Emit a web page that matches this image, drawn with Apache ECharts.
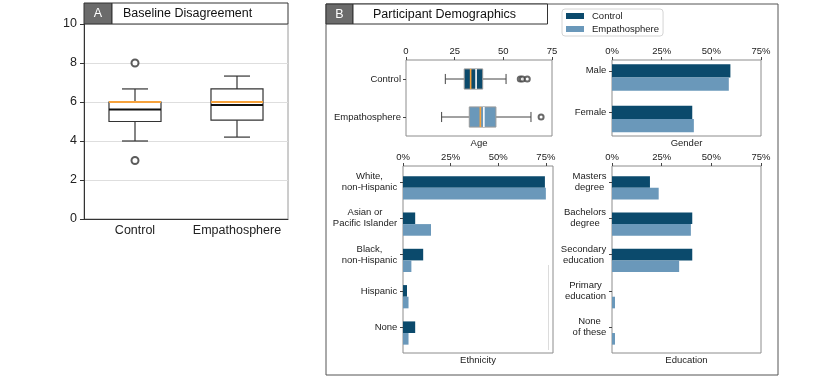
<!DOCTYPE html>
<html><head><meta charset="utf-8">
<script src="https://cdn.jsdelivr.net/npm/echarts@6/dist/echarts.min.js"></script>
<style>html,body{margin:0;padding:0;background:#fff}#c{width:830px;height:376px}</style>
</head><body><div id="c"></div>
<script>
// ---------------- data ----------------
const groups = ['Control', 'Empathosphere'];
// box stats: [low whisker, Q1, median, Q3, high whisker, mean]
const baselineStats = [
  [4.0, 5.0, 6.0, 6.0, 6.67, 5.62],
  [4.2, 5.07, 6.0, 6.67, 7.33, 5.84]
];
const baselineOutliers = [[0, 8.0], [0, 3.0]];
const baselineTicks = [0, 2, 4, 6, 8, 10];

const ageStats = [
  [20.2, 29.9, 33.2, 39.4, 51.4, 36.0],
  [18.3, 32.5, 38.2, 46.2, 64.2, 40.0]
];
const ageOutliers = [[58.7, 0], [59.8, 0], [62.3, 0], [69.4, 1]];
const ageTicks = [0, 25, 50, 75];

const genderCats = ['Male', 'Female'];
const genderControl = [59.6, 40.4];
const genderEmpatho = [58.8, 41.2];

const ethnicityCats = ['White,\nnon-Hispanic', 'Asian or\nPacific Islander', 'Black,\nnon-Hispanic', 'Hispanic', 'None'];
const ethnicityControl = [74.5, 6.4, 10.6, 2.1, 6.4];
const ethnicityEmpatho = [75.0, 14.7, 4.4, 2.9, 2.9];

const educationCats = ['Masters\ndegree', 'Bachelors\ndegree', 'Secondary\neducation', 'Primary\neducation', 'None\nof these'];
const educationControl = [19.1, 40.4, 40.4, 0, 0];
const educationEmpatho = [23.5, 39.7, 33.8, 1.5, 1.5];

const pctTicks = [0, 25, 50, 75];

// ---------------- styles ----------------
const FONT = '"Liberation Sans", Arial, Helvetica, sans-serif';
const C_CONTROL = '#0b4a6c';
const C_EMPATHO = '#6a98ba';
const ORANGE = '#f6a23c';
const FRAME = '#8c8c8c';
const TXT = '#222';
const SMALL = 9.5;
const BIG = 12.5;
const BAR_H = 0.32;

const ctx = document.createElement('canvas').getContext('2d');
ctx.font = SMALL + 'px ' + FONT;
function richFor(cats, prefix) {
  const rich = {};
  cats.forEach((c, i) => {
    const w = Math.max(...c.split('\n').map(l => ctx.measureText(l).width));
    rich[prefix + i] = {width: Math.ceil(w) + 1, align: 'center', fontSize: SMALL, lineHeight: 11, fontFamily: FONT, color: TXT};
  });
  return rich;
}
function catFormatter(cats, prefix) {
  return v => {
    const i = Math.round(v);
    if (cats[i] == null) return '';
    return cats[i].split('\n').map(l => '{' + prefix + i + '|' + l + '}').join('\n');
  };
}

function boxRender(horizontal, st) {
  return function (params, api) {
    const c = api.value(0);
    const low = api.value(1), q1 = api.value(2), med = api.value(3), q3 = api.value(4), high = api.value(5), mean = api.value(6);
    const band = horizontal ? api.size([0, 1])[1] : api.size([1, 0])[0];
    const bw = band * st.boxRatio, cap = bw / 2;
    const P = (val, off) => {
      if (horizontal) { const p = api.coord([val, c]); return [p[0], p[1] + off]; }
      const p = api.coord([c, val]); return [p[0] + off, p[1]];
    };
    const line = (a, b, style) => ({type: 'line', shape: {x1: a[0], y1: a[1], x2: b[0], y2: b[1]}, style: style});
    const wst = {stroke: st.whisker, lineWidth: st.whiskerWidth};
    const a1 = P(q1, -bw / 2), a2 = P(q3, bw / 2);
    const fill = st.fills ? st.fills[params.dataIndex] : 'rgba(0,0,0,0)';
    return {type: 'group', children: [
      line(P(low, 0), P(q1, 0), wst),
      line(P(q3, 0), P(high, 0), wst),
      line(P(low, -cap / 2), P(low, cap / 2), wst),
      line(P(high, -cap / 2), P(high, cap / 2), wst),
      {type: 'rect', shape: {x: Math.min(a1[0], a2[0]), y: Math.min(a1[1], a2[1]), width: Math.abs(a2[0] - a1[0]), height: Math.abs(a2[1] - a1[1])},
        style: {fill: fill, stroke: st.boxStroke, lineWidth: st.boxWidth}},
      line(P(mean, -bw / 2), P(mean, bw / 2), {stroke: st.mean, lineWidth: st.lineW}),
      line(P(med, -bw / 2), P(med, bw / 2), {stroke: ORANGE, lineWidth: st.lineW})
    ]};
  };
}

function barRender(slot) {
  return function (params, api) {
    const c = api.value(0), v = api.value(1);
    const top = c - BAR_H / 2 + slot * BAR_H;
    const p0 = api.coord([0, top]);
    const p1 = api.coord([v, top + BAR_H]);
    return {type: 'rect', shape: {x: p0[0], y: Math.min(p0[1], p1[1]), width: p1[0] - p0[0], height: Math.abs(p1[1] - p0[1])},
      style: {fill: api.visual('color')}};
  };
}

const chart = echarts.init(document.getElementById('c'), null, {renderer: 'canvas'});

const gridBase = {show: true, borderColor: FRAME, borderWidth: 1, backgroundColor: 'rgba(0,0,0,0)', containLabel: false, outerBoundsMode: 'none'};
const smallLabel = {fontSize: SMALL, color: TXT, fontFamily: FONT};
const smallTick = {show: true, length: 3, lineStyle: {color: '#444', width: 1}};

function pctXAxis(grid, max) {
  return {gridIndex: grid, type: 'value', position: 'top', min: 0, max: max,
    axisLine: {show: false, onZero: false}, splitLine: {show: false},
    axisTick: Object.assign({customValues: pctTicks}, smallTick),
    axisLabel: Object.assign({customValues: pctTicks, margin: 4, formatter: v => v + '%'}, smallLabel)};
}
function catYAxis(grid, cats, prefix, min, max) {
  const idx = cats.map((c, i) => i);
  return {gridIndex: grid, type: 'value', inverse: true, min: min, max: max,
    axisLine: {show: false, onZero: false}, splitLine: {show: false},
    axisTick: Object.assign({customValues: idx}, smallTick),
    axisLabel: Object.assign({customValues: idx, margin: 5, formatter: catFormatter(cats, prefix), rich: richFor(cats, prefix)}, smallLabel)};
}
function barSeries(name, grid, color, slot, values) {
  return {name: name, type: 'custom', xAxisIndex: grid, yAxisIndex: grid, itemStyle: {color: color},
    encode: {x: 1, y: 0}, renderItem: barRender(slot), data: values.map((v, i) => [i, v])};
}

const option = {
  animation: false,
  textStyle: {fontFamily: FONT},
  grid: [
    Object.assign({}, gridBase, {left: 84, top: 24, width: 204, height: 195, borderColor: '#9a9a9a'}),
    Object.assign({}, gridBase, {left: 406, top: 60, width: 146, height: 76}),
    Object.assign({}, gridBase, {left: 612, top: 60, width: 149, height: 76}),
    Object.assign({}, gridBase, {left: 403, top: 166, width: 150, height: 187}),
    Object.assign({}, gridBase, {left: 612, top: 166, width: 149, height: 187})
  ],
  legend: {
    data: groups, orient: 'vertical', left: 562, top: 9, icon: 'rect', itemWidth: 18, itemHeight: 6, itemGap: 3,
    padding: [2, 4, 2, 4], borderColor: '#d4d4d4', borderWidth: 1, borderRadius: 3, selectedMode: false,
    textStyle: {fontSize: SMALL, color: TXT, fontFamily: FONT, padding: [0, 0, 0, 3]}
  },
  xAxis: [
    {gridIndex: 0, type: 'category', data: groups, axisLine: {lineStyle: {color: '#333'}},
      axisTick: {alignWithLabel: true, length: 4, lineStyle: {color: '#333'}},
      axisLabel: {interval: 0, fontSize: BIG, color: TXT, margin: 5, fontFamily: FONT}},
    {gridIndex: 1, type: 'value', position: 'top', min: 0, max: 75, interval: 25,
      axisLine: {show: false, onZero: false}, splitLine: {show: false}, axisTick: smallTick,
      axisLabel: Object.assign({margin: 4}, smallLabel)},
    pctXAxis(2, 75),
    pctXAxis(3, 78.75),
    pctXAxis(4, 75)
  ],
  yAxis: [
    {gridIndex: 0, type: 'value', min: 0, max: 10, interval: 2,
      axisLine: {show: true, lineStyle: {color: '#333'}},
      axisTick: {show: true, length: 4, lineStyle: {color: '#333'}},
      splitLine: {show: true, lineStyle: {color: '#dedede', width: 1.2}},
      axisLabel: {fontSize: BIG, color: TXT, margin: 7, fontFamily: FONT}},
    {gridIndex: 1, type: 'category', inverse: true, data: groups, axisLine: {show: false, onZero: false},
      axisTick: Object.assign({alignWithLabel: true}, smallTick),
      axisLabel: Object.assign({margin: 5}, smallLabel)},
    catYAxis(2, genderCats, 'g', -0.26, 1.57),
    catYAxis(3, ethnicityCats, 'e', -0.44, 4.71),
    catYAxis(4, educationCats, 'd', -0.44, 4.71)
  ],
  series: [
    {name: 'Baseline Disagreement', type: 'custom', xAxisIndex: 0, yAxisIndex: 0,
      encode: {x: 0, y: [1, 2, 3, 4, 5, 6]},
      renderItem: boxRender(false, {boxRatio: 0.51, whisker: '#333', whiskerWidth: 1.2, boxStroke: '#333', boxWidth: 1.2, mean: '#111', lineW: 2}),
      data: baselineStats.map((s, i) => [i].concat(s))},
    {name: 'Baseline outliers', type: 'scatter', xAxisIndex: 0, yAxisIndex: 0, symbol: 'emptyCircle', symbolSize: 7,
      itemStyle: {color: '#333', borderWidth: 0.9}, data: baselineOutliers},
    {name: 'Age', type: 'custom', xAxisIndex: 1, yAxisIndex: 1,
      encode: {y: 0, x: [1, 2, 3, 4, 5, 6]},
      renderItem: boxRender(true, {boxRatio: 0.53, whisker: '#444', whiskerWidth: 1, boxStroke: '#9a9a9a', boxWidth: 1, mean: '#ffffff', lineW: 1.6, fills: [C_CONTROL, C_EMPATHO]}),
      data: ageStats.map((s, i) => [i].concat(s))},
    {name: 'Age outliers', type: 'scatter', xAxisIndex: 1, yAxisIndex: 1, symbol: 'emptyCircle', symbolSize: 5,
      itemStyle: {color: '#444', borderWidth: 0.8}, data: ageOutliers},
    barSeries('Control', 2, C_CONTROL, 0, genderControl),
    barSeries('Empathosphere', 2, C_EMPATHO, 1, genderEmpatho),
    barSeries('Control', 3, C_CONTROL, 0, ethnicityControl),
    barSeries('Empathosphere', 3, C_EMPATHO, 1, ethnicityEmpatho),
    barSeries('Control', 4, C_CONTROL, 0, educationControl),
    barSeries('Empathosphere', 4, C_EMPATHO, 1, educationEmpatho)
  ],
  graphic: [
    // panel A header
    {type: 'rect', z: 10, shape: {x: 84, y: 3, width: 28, height: 21}, style: {fill: '#6b6b6b', stroke: '#333', lineWidth: 1}},
    {type: 'rect', z: 10, shape: {x: 112, y: 3, width: 176, height: 21}, style: {fill: '#fff', stroke: '#333', lineWidth: 1}},
    {type: 'text', z: 11, x: 98, y: 14, style: {text: 'A', fill: '#fff', fontSize: BIG, fontFamily: FONT, align: 'center', verticalAlign: 'middle'}},
    {type: 'text', z: 11, x: 123, y: 14, style: {text: 'Baseline Disagreement', fill: '#111', fontSize: BIG, fontFamily: FONT, align: 'left', verticalAlign: 'middle'}},
    // panel B frame and header
    {type: 'rect', z: 9, shape: {x: 326, y: 4, width: 452, height: 371}, style: {fill: 'none', stroke: '#555', lineWidth: 1}},
    {type: 'rect', z: 10, shape: {x: 326, y: 4, width: 27, height: 20}, style: {fill: '#6b6b6b', stroke: '#333', lineWidth: 1}},
    {type: 'rect', z: 10, shape: {x: 353, y: 4, width: 194.5, height: 20}, style: {fill: '#fff', stroke: '#333', lineWidth: 1}},
    {type: 'text', z: 11, x: 339.5, y: 14.5, style: {text: 'B', fill: '#fff', fontSize: BIG, fontFamily: FONT, align: 'center', verticalAlign: 'middle'}},
    {type: 'text', z: 11, x: 373, y: 14.5, style: {text: 'Participant Demographics', fill: '#111', fontSize: BIG, fontFamily: FONT, align: 'left', verticalAlign: 'middle'}},
    // subplot axis titles
    {type: 'text', x: 479, y: 143, style: {text: 'Age', fill: TXT, fontSize: SMALL, fontFamily: FONT, align: 'center', verticalAlign: 'middle'}},
    {type: 'text', x: 686.5, y: 143, style: {text: 'Gender', fill: TXT, fontSize: SMALL, fontFamily: FONT, align: 'center', verticalAlign: 'middle'}},
    {type: 'text', x: 478, y: 360.5, style: {text: 'Ethnicity', fill: TXT, fontSize: SMALL, fontFamily: FONT, align: 'center', verticalAlign: 'middle'}},
    {type: 'text', x: 686.5, y: 360.5, style: {text: 'Education', fill: TXT, fontSize: SMALL, fontFamily: FONT, align: 'center', verticalAlign: 'middle'}},
    // faint stray line present in the reference
    {type: 'line', shape: {x1: 548.5, y1: 265, x2: 548.5, y2: 350}, style: {stroke: '#dcdcdc', lineWidth: 1}}
  ]
};
chart.setOption(option);
</script>
</body></html>
